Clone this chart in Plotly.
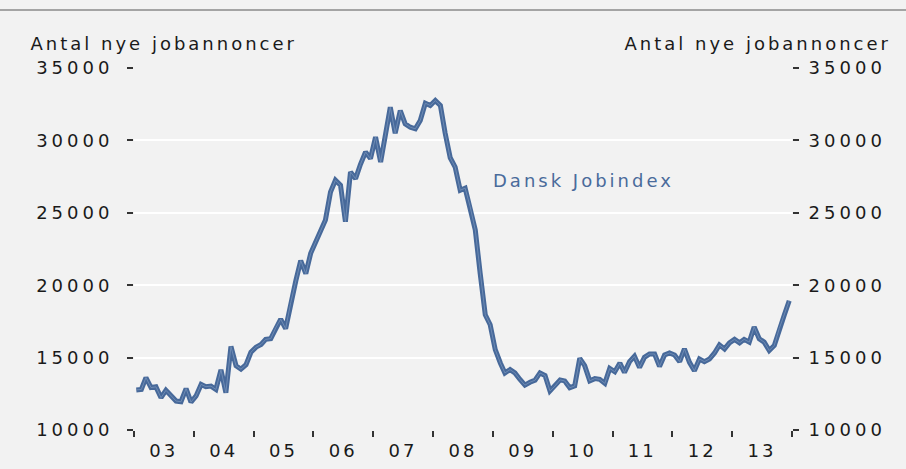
import pandas as pd
import plotly.graph_objects as go

# Monthly number of new job ads (Dansk Jobindex), Jan 2003 - Dec 2013
values = [
    # 2003
    12770, 12800, 13620, 12930, 12980, 12230, 12740, 12350, 12000, 11950, 12860, 11930,
    # 2004
    12350, 13150, 12990, 13030, 12800, 14160, 12580, 15770, 14440, 14200, 14510, 15370,
    # 2005
    15720, 15910, 16260, 16310, 17050, 17650, 17000, 18800, 20300, 21700, 20800, 22200,
    # 2006
    23000, 23760, 24500, 26440, 27250, 26900, 24380, 27820, 27360, 28350, 29200, 28740,
    # 2007
    30230, 28500, 30340, 32290, 30500, 32060, 31140, 30910, 30800, 31380, 32570, 32410,
    # 2008
    32750, 32410, 30500, 28800, 28160, 26560, 26700, 25410, 23810, 20800, 17960, 17270,
    # 2009
    15550, 14630, 13940, 14170, 13940, 13490, 13100, 13300, 13440, 13940, 13760, 12700,
    # 2010
    13040, 13460, 13390, 12920, 13040, 14950, 14440, 13390, 13550, 13500, 13220, 14250,
    # 2011
    14020, 14620, 13970, 14720, 15090, 14320, 15020, 15250, 15250, 14390, 15180, 15320,
    # 2012
    15180, 14720, 15600, 14670, 14090, 14900, 14720, 14900, 15320, 15880, 15600, 16020,
    # 2013
    16260, 16020, 16260, 16070, 17120, 16300, 16070, 15490, 15840, 17000, 17940, 18930,
]
dates = pd.date_range("2003-01-01", periods=len(values), freq="MS") + pd.Timedelta(days=14)

year_label_dates = [f"{y}-07-02" for y in range(2003, 2014)]
year_labels = ["03", "04", "05", "06", "07", "08", "09", "10", "11", "12", "13"]

y_ticks = [10000, 15000, 20000, 25000, 30000, 35000]
y_title = "Antal nye jobannoncer"
series_name = "Dansk Jobindex"

FONT = "DejaVu Sans"
BG = "#f2f2f2"
LINE = "#47699a"
TXT = "#1a1a1a"

fig = go.Figure()
fig.add_trace(go.Scatter(x=dates, y=values, mode="lines", name=series_name,
                         line=dict(color=LINE, width=5), hoverinfo="skip"))
fig.add_trace(go.Scatter(x=dates, y=values, mode="lines", showlegend=False,
                         line=dict(color="#6e8bb4", width=1), hoverinfo="skip"))
# same series on the right-hand axis (invisible) so that the right axis is drawn
fig.add_trace(go.Scatter(x=dates, y=values, mode="lines", showlegend=False, yaxis="y2",
                         line=dict(color="rgba(0,0,0,0)", width=0), hoverinfo="skip"))

L, R, T, B = 134, 114, 68, 39
W, H = 906, 469
pw, ph = W - L - R, H - T - B

fig.update_layout(
    width=W, height=H,
    margin=dict(l=L, r=R, t=T, b=B, pad=0, autoexpand=False),
    paper_bgcolor=BG, plot_bgcolor=BG,
    showlegend=False,
    font=dict(family=FONT, color=TXT, size=18),
    xaxis=dict(
        type="date", range=["2003-01-01", "2014-01-01"], automargin=False,
        tickmode="array", tickvals=year_label_dates, ticktext=year_labels,
        ticks="", showgrid=False, zeroline=False, showline=False,
        ticklabelstandoff=8,
        tickfont=dict(size=18, color=TXT),
        minor=dict(ticks="outside", dtick="M12", tick0="2003-01-01",
                   ticklen=6, tickwidth=1.5, tickcolor="#333", showgrid=False),
    ),
    yaxis=dict(
        range=[10000, 35000], tickvals=y_ticks, ticktext=[str(v) for v in y_ticks],
        automargin=False,
        ticks="outside", ticklen=6, tickwidth=1.5, tickcolor="#333",
        showgrid=True, gridcolor="white", gridwidth=2,
        zeroline=False, showline=False, ticklabelstandoff=10,
        tickfont=dict(size=18, color=TXT),
    ),
    yaxis2=dict(
        range=[10000, 35000], tickvals=y_ticks, ticktext=[str(v) for v in y_ticks],
        overlaying="y", side="right", anchor="x", automargin=False,
        ticks="outside", ticklen=6, tickwidth=1.5, tickcolor="#333",
        showgrid=False, zeroline=False, showline=False, ticklabelstandoff=6,
        tickfont=dict(size=18, color=TXT),
    ),
)

# axis titles at top
fig.add_annotation(text=y_title, xref="paper", yref="paper",
                   x=(164 - L) / pw, y=1 + (T - 43) / ph, xanchor="center", yanchor="middle",
                   showarrow=False, font=dict(size=18, color=TXT, family=FONT))
fig.add_annotation(text=y_title, xref="paper", yref="paper",
                   x=(758 - L) / pw, y=1 + (T - 43) / ph, xanchor="center", yanchor="middle",
                   showarrow=False, font=dict(size=18, color=TXT, family=FONT))
# series label
fig.add_annotation(text=series_name, x="2010-07-05", y=27200, xref="x", yref="y",
                   showarrow=False, xanchor="center", yanchor="middle",
                   font=dict(size=18, color="#4a6b9b", family=FONT))
# top separator line
fig.add_shape(type="line", xref="paper", yref="paper",
              x0=-L / pw, x1=(W - L) / pw, y0=1 + (T - 10) / ph, y1=1 + (T - 10) / ph,
              line=dict(color="#8a8a8a", width=1.5))

post = (
    "document.body.style.margin='0';"
    "document.body.style.background='#f2f2f2';"
    "var s=document.createElement('style');"
    "s.textContent='.main-svg text{letter-spacing:3px}"
    " .ytick text,.y2tick text{letter-spacing:4px}';"
    "document.head.appendChild(s);"
)
fig.write_html("out.html", post_script=post, config={"displayModeBar": False})
